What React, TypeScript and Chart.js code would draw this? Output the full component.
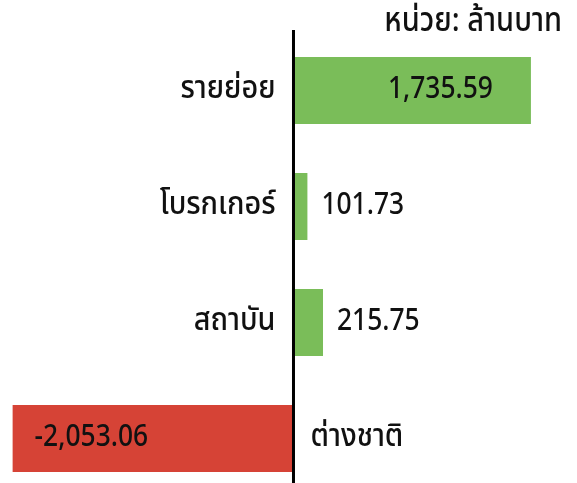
import React, { useEffect, useRef } from "react";
import { Chart, registerables } from "chart.js";

Chart.register(...registerables);

const categories = ["รายย่อย", "โบรกเกอร์", "สถาบัน", "ต่างชาติ"];
const values = [1735.59, 101.73, 215.75, -2053.06];
const valueLabels = ["1,735.59", "101.73", "215.75", "-2,053.06"];
const unitLabel = "หน่วย: ล้านบาท";

const GREEN = "#7abd59";
const RED = "#d64336";
const FONT = "'Noto Sans Thai', 'Noto Sans', 'Loma', 'Garuda', sans-serif";

function drawText(ctx: CanvasRenderingContext2D, text: string, x: number, y: number, align: CanvasTextAlign, size: number, sx: number) {
  ctx.save();
  ctx.translate(x, y);
  ctx.scale(sx, 1);
  ctx.font = `500 ${size}px ${FONT}`;
  ctx.fillStyle = "#111111";
  ctx.textAlign = align;
  ctx.textBaseline = "middle";
  ctx.fillText(text, 0, 0);
  ctx.restore();
}

const labelPlugin = {
  id: "labelPlugin",
  afterDatasetsDraw(chart: any) {
    const ctx = chart.ctx as CanvasRenderingContext2D;
    const xScale = chart.scales.x;
    const zero = xScale.getPixelForValue(0);
    // zero line
    ctx.save();
    ctx.strokeStyle = "#000000";
    ctx.lineWidth = 3;
    ctx.beginPath();
    ctx.moveTo(zero, 30);
    ctx.lineTo(zero, chart.height);
    ctx.stroke();
    ctx.restore();

    const meta = chart.getDatasetMeta(0);
    meta.data.forEach((el: any, i: number) => {
      const v = values[i];
      const y = el.y;
      if (v >= 0) {
        drawText(ctx, categories[i], zero - 18, y + 1, "right", 32, 0.9);
        const w = el.x - zero;
        if (w > 150) {
          drawText(ctx, valueLabels[i], el.x - 38, y + 1, "right", 30, 0.88);
        } else {
          drawText(ctx, valueLabels[i], el.x + 14, y + 1, "left", 30, 0.88);
        }
      } else {
        drawText(ctx, categories[i], zero + 17, y + 1, "left", 32, 0.9);
        drawText(ctx, valueLabels[i], el.x + 22, y + 1, "left", 30, 0.88);
      }
    });

    drawText(ctx, unitLabel, 562, 24, "right", 33, 0.88);
  },
};

export default function App() {
  const ref = useRef<HTMLCanvasElement | null>(null);
  useEffect(() => {
    if (!ref.current) return;
    const chart = new Chart(ref.current, {
      type: "bar",
      data: {
        labels: categories,
        datasets: [
          {
            data: values,
            backgroundColor: values.map((v) => (v >= 0 ? GREEN : RED)),
            borderWidth: 0,
            categoryPercentage: 1,
            barPercentage: 0.578,
          },
        ],
      },
      options: {
        indexAxis: "y",
        responsive: false,
        animation: false,
        layout: { padding: { left: 6.2, right: 9.9, top: 32.5, bottom: 3.5 } },
        plugins: { legend: { display: false }, tooltip: { enabled: false }, title: { display: false } },
        scales: {
          x: { display: false, min: -2100, max: 2000 },
          y: { display: false },
        },
      },
      plugins: [labelPlugin],
    });
    return () => chart.destroy();
  }, []);
  return (
    <div style={{ position: "fixed", left: 0, top: 0, width: 577, height: 483, overflow: "hidden", background: "#ffffff" }}>
      <canvas ref={ref} width={577} height={500} style={{ width: 577, height: 500, display: "block" }} />
    </div>
  );
}
